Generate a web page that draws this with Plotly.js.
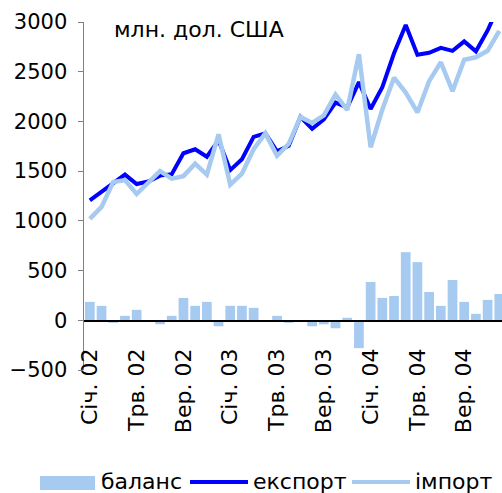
<!DOCTYPE html>
<html>
<head>
<meta charset="utf-8">
<script src="https://cdn.plot.ly/plotly-3.0.1.min.js"></script>
<style>html,body{margin:0;padding:0;background:#fff;}#chart{width:502px;height:493px;}</style>
</head>
<body>
<div id="chart"></div>
<script>
var months = ["Січ. 02","Лют. 02","Бер. 02","Кві. 02","Трв. 02","Чер. 02","Лип. 02","Сер. 02","Вер. 02","Жов. 02","Лис. 02","Гру. 02",
              "Січ. 03","Лют. 03","Бер. 03","Кві. 03","Трв. 03","Чер. 03","Лип. 03","Сер. 03","Вер. 03","Жов. 03","Лис. 03","Гру. 03",
              "Січ. 04","Лют. 04","Бер. 04","Кві. 04","Трв. 04","Чер. 04","Лип. 04","Сер. 04","Вер. 04","Жов. 04","Лис. 04","Гру. 04"];
var exportVals = [1205,1290,1370,1465,1370,1395,1455,1470,1680,1720,1645,1810,
                  1510,1620,1845,1880,1700,1755,2045,1925,2020,2190,2140,2395,
                  2125,2345,2685,2970,2670,2690,2740,2710,2805,2705,2915,3175];
var importVals = [1020,1140,1390,1410,1270,1390,1500,1425,1450,1575,1465,1870,
                  1365,1475,1720,1880,1655,1775,2045,1985,2060,2270,2115,2675,
                  1740,2120,2440,2290,2090,2405,2595,2305,2620,2645,2710,2910];
var balanceVals = [185,145,-25,45,105,0,-40,45,225,145,185,-60,
                   145,145,125,0,45,-25,0,-60,-40,-80,25,-280,
                   385,225,245,685,585,285,145,405,185,65,205,265];
var tickLabels = ["Січ. 02","Трв. 02","Вер. 02","Січ. 03","Трв. 03","Вер. 03","Січ. 04","Трв. 04","Вер. 04"];
var seriesNames = ["баланс","експорт","імпорт"];
var unitLabel = "млн. дол. США";

var W = 502, H = 493, ML = 84, MR = 0, MT = 22, MB = 123;
var PW = W - ML - MR, PH = H - MT - MB;
function px(x){ return (x - ML) / PW; }
function py(y){ return (H - MB - y) / PH; }

var cLight = "#A6CAF0", cDark = "#0000FF";
var font = "DejaVu Sans";

var traces = [
  {type:"bar", x:months, y:balanceVals, name:seriesNames[0], marker:{color:cLight}, showlegend:false, hoverinfo:"skip"},
  {type:"scatter", mode:"lines", x:months, y:exportVals, name:seriesNames[1], line:{color:cDark, width:4}, showlegend:false},
  {type:"scatter", mode:"lines", x:months, y:importVals, name:seriesNames[2], line:{color:cLight, width:4.5}, showlegend:false}
];

var legY = 482;
var layout = {
  width:W, height:H,
  margin:{l:ML, r:MR, t:MT, b:MB, pad:0},
  paper_bgcolor:"#fff", plot_bgcolor:"#fff",
  font:{family:font, size:20, color:"#000"},
  bargap:0.17,
  showlegend:false,
  xaxis:{
    type:"category", range:[-0.5, 35.23], anchor:"free", position:500/3500,
    tickmode:"array", tickvals:tickLabels, ticktext:tickLabels, tickangle:-90,
    ticks:"", showgrid:false, zeroline:false,
    showline:true, linecolor:"#000", linewidth:1.5,
    tickfont:{family:font, size:22, color:"#000"}, ticklabelstandoff:18
  },
  yaxis:{
    range:[-500,3000], dtick:500, tick0:0, showgrid:false, zeroline:false,
    showline:true, linecolor:"#808080", linewidth:1.5,
    ticks:"outside", ticklen:5, tickcolor:"#808080", tickwidth:1,
    tickfont:{family:font, size:21, color:"#000"}, ticklabelstandoff:6
  },
  shapes:[
    {type:"rect", xref:"paper", yref:"paper", x0:px(40), x1:px(95), y0:py(490), y1:py(476), fillcolor:cLight, line:{width:0}},
    {type:"line", xref:"paper", yref:"paper", x0:px(190), x1:px(248), y0:py(legY), y1:py(legY), line:{color:cDark, width:4}},
    {type:"line", xref:"paper", yref:"paper", x0:px(352), x1:px(410), y0:py(legY), y1:py(legY), line:{color:cLight, width:4}}
  ],
  annotations:[
    {text:unitLabel, xref:"paper", yref:"paper", x:px(112), y:py(30), xanchor:"left", yanchor:"middle", showarrow:false, font:{family:font, size:22, color:"#000"}},
    {text:seriesNames[0], xref:"paper", yref:"paper", x:px(99), y:py(481), xanchor:"left", yanchor:"middle", showarrow:false, font:{family:font, size:22, color:"#000"}},
    {text:seriesNames[1], xref:"paper", yref:"paper", x:px(251), y:py(481), xanchor:"left", yanchor:"middle", showarrow:false, font:{family:font, size:22, color:"#000"}},
    {text:seriesNames[2], xref:"paper", yref:"paper", x:px(413), y:py(481), xanchor:"left", yanchor:"middle", showarrow:false, font:{family:font, size:22, color:"#000"}}
  ]
};

Plotly.newPlot("chart", traces, layout, {displayModeBar:false, staticPlot:true});
</script>
</body>
</html>
